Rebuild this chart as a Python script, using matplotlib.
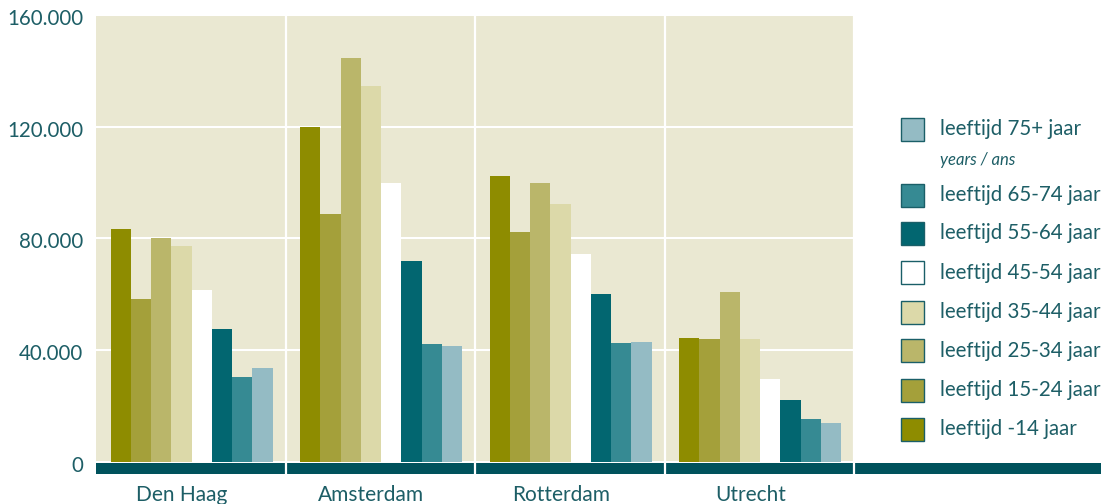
import matplotlib.pyplot as plt
from matplotlib.patches import Rectangle
from matplotlib.ticker import FuncFormatter
from matplotlib.transforms import ScaledTranslation
import numpy as np

plt.rcParams['font.family'] = ['Lato', 'DejaVu Sans']

# --- data ---
cities = ["Den Haag", "Amsterdam", "Rotterdam", "Utrecht"]
groups = ["-14", "15-24", "25-34", "35-44", "45-54", "55-64", "65-74", "75+"]
values = {
    "-14":   [83300, 120000, 102400, 44300],
    "15-24": [58300, 88700, 82300, 44000],
    "25-34": [80200, 144700, 99900, 60800],
    "35-44": [77300, 134700, 92400, 44000],
    "45-54": [61600, 99800, 74400, 29600],
    "55-64": [47600, 71900, 60100, 22100],
    "65-74": [30400, 42200, 42500, 15300],
    "75+":   [33600, 41500, 42900, 13900],
}
colors = ["#8E8C00", "#A4A03A", "#BAB66A", "#DCD9A9",
          "#FFFFFF", "#026670", "#368A93", "#94BBC4"]
yticks = [0, 40000, 80000, 120000, 160000]

TEXT = "#1D5E66"
BG = "#EAE8D2"
STRIP = "#00525C"

fig = plt.figure(figsize=(11.06, 5.04), dpi=100)
ax = fig.add_axes([96/1106, 42.3/504, 758/1106, 446.7/504])
ax.set_facecolor(BG)

x = np.arange(len(cities))
w = 20.25 / 189.5
start = -0.5 + 14.5 / 189.5
for j, g in enumerate(groups):
    ax.bar(x + start + j * w, values[g], width=w, align='edge',
           color=colors[j], linewidth=0, zorder=3)

ax.set_xlim(-0.5, 3.5)
ax.set_ylim(0, 160000)
ax.set_yticks(yticks)
ax.yaxis.set_major_formatter(FuncFormatter(lambda v, p: f"{int(v):,}".replace(",", ".")))
ax.grid(axis='y', color='white', linewidth=1.5, zorder=1)
for s in ax.spines.values():
    s.set_visible(False)

ax.set_xticks(x)
ax.set_xticklabels(cities)
ax.tick_params(axis='both', length=0, labelcolor=TEXT)
ax.tick_params(axis='x', pad=17, labelsize=15)
ax.tick_params(axis='y', pad=9, labelsize=14.8)
for lbl in ax.get_xticklabels():
    lbl.set_transform(lbl.get_transform() + ScaledTranslation(-9/100, 0, fig.dpi_scale_trans))
for lbl in ax.get_yticklabels():
    lbl.set_transform(lbl.get_transform() + ScaledTranslation(0, -2/100, fig.dpi_scale_trans))

# dark strip under the axis, running out to the right edge
trans = ax.get_xaxis_transform()
ax.add_patch(Rectangle((-0.5, -0.0269), 3.5 + 0.5 + (1101 - 854) / 189.5, 0.0233,
                       transform=trans, color=STRIP, clip_on=False, zorder=4, linewidth=0))
# white dividers between cities
ax.vlines([0.5, 1.5, 2.5, 3.5], -0.035, 1, transform=trans, colors='white',
          linewidth=1.6, clip_on=False, zorder=5)

# legend (drawn by hand, top entry first)
leg_rows = [("75+", 129.3), ("65-74", 195), ("55-64", 233.3), ("45-54", 272.7),
            ("35-44", 312), ("25-34", 350.7), ("15-24", 390), ("-14", 429.3)]
for g, yc in leg_rows:
    c = colors[groups.index(g)]
    fig.add_artist(Rectangle((901/1106, (504 - yc - 11.5)/504), 23/1106, 23/504,
                             transform=fig.transFigure, facecolor=c,
                             edgecolor="#1A5F68", linewidth=1))
    fig.text(940/1106, (504 - yc)/504, f"leeftijd {g} jaar", color=TEXT,
             fontsize=14.8, va='center', ha='left')
fig.text(940/1106, (504 - 160)/504, "years / ans", color=TEXT, fontsize=12,
         style='italic', va='center', ha='left')

fig.savefig("out.png", dpi=100)
